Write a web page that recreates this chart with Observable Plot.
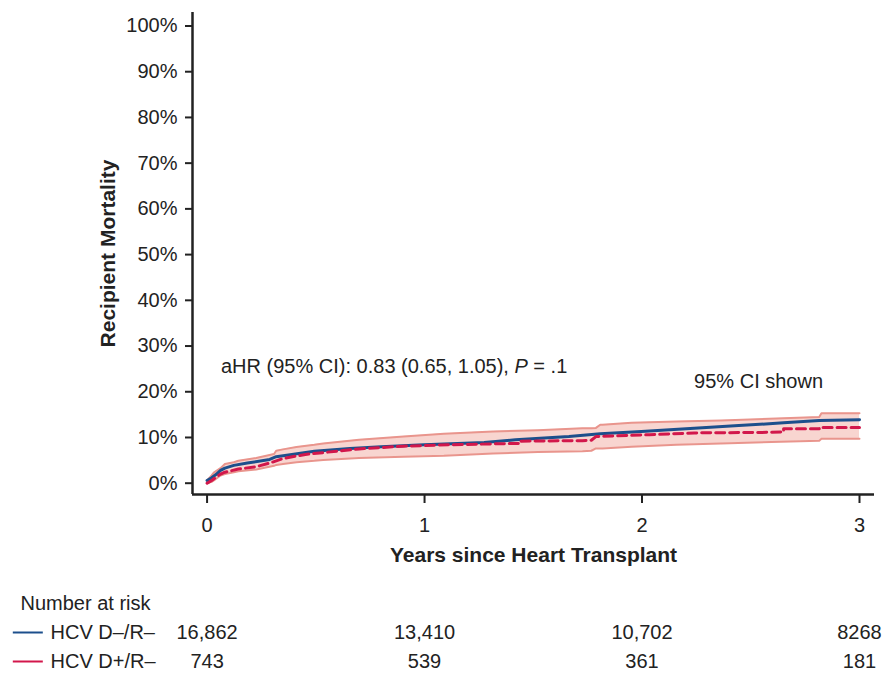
<!DOCTYPE html>
<html><head><meta charset="utf-8">
<script src="https://cdn.jsdelivr.net/npm/d3@7"></script>
<script src="https://cdn.jsdelivr.net/npm/@observablehq/plot@0.6"></script>
<style>
body{margin:0;background:#fff;}
#chart{width:884px;}
#chart svg{display:block;}
</style></head><body><div id="chart"></div>
<script>
const FONT = '"Liberation Sans", Arial, Helvetica, sans-serif';

// Series
const seriesNames = ["HCV D–/R–", "HCV D+/R–"];
const seriesColors = ["#1c4f8c", "#d2174b"];

// HCV D–/R– (solid blue), cumulative mortality %
const blueYears = [0, 0.021, 0.041, 0.062, 0.082, 0.123, 0.185, 0.288, 0.318, 0.390, 0.493, 0.657, 0.801, 0.999, 1.274, 1.418, 1.664, 1.808, 1.997, 2.240, 2.445, 2.651, 2.815, 3.0];
const blueMortality = [0.6, 1.2, 1.9, 2.8, 3.3, 3.9, 4.4, 5.2, 5.8, 6.3, 7.0, 7.6, 8.0, 8.4, 8.9, 9.5, 10.2, 10.8, 11.3, 12.0, 12.6, 13.2, 13.7, 13.9];

// HCV D+/R– (dashed red)
const redYears = [0, 0.021, 0.041, 0.062, 0.082, 0.144, 0.226, 0.288, 0.349, 0.452, 0.596, 0.699, 0.904, 1.109, 1.315, 1.438, 1.438, 1.726, 1.767, 1.788, 2.034, 2.240, 2.548, 2.651, 2.651, 2.815, 2.815, 3.0];
const redMortality = [0, 0.6, 1.3, 2.0, 2.4, 3.1, 3.6, 4.4, 5.4, 6.3, 7.0, 7.5, 8.1, 8.4, 8.6, 8.7, 9.2, 9.3, 9.4, 10.2, 10.6, 11.0, 11.1, 11.2, 11.9, 11.9, 12.2, 12.2];

// 95% CI band
const ciYears = [0, 0.021, 0.031, 0.062, 0.082, 0.123, 0.144, 0.226, 0.308, 0.318, 0.349, 0.411, 0.493, 0.534, 0.699, 0.904, 1.089, 1.315, 1.521, 1.726, 1.767, 1.788, 1.808, 1.818, 1.952, 2.158, 2.363, 2.815, 2.825, 3.0];
const ciLower = [0, 0.3, 0.6, 1.7, 2.0, 2.4, 2.6, 3.0, 3.8, 4.0, 4.2, 4.6, 4.9, 5.1, 5.5, 5.8, 6.0, 6.5, 6.8, 7.0, 7.1, 7.6, 7.6, 7.6, 8.0, 8.4, 8.7, 9.3, 9.7, 9.7];
const ciUpper = [0.6, 1.7, 2.3, 3.3, 4.2, 4.6, 4.9, 5.5, 6.4, 7.1, 7.4, 7.9, 8.4, 8.7, 9.5, 10.2, 10.8, 11.3, 11.6, 12.0, 12.0, 12.1, 12.8, 12.8, 13.2, 13.5, 13.7, 14.5, 15.3, 15.3];

// Axes
const yTicks = [0, 10, 20, 30, 40, 50, 60, 70, 80, 90, 100];
const xTicks = [0, 1, 2, 3];
const xLabel = "Years since Heart Transplant";
const yLabel = "Recipient Mortality";

// Annotations (data units)
const hrNote = "aHR (95% CI): 0.83 (0.65, 1.05), P = .1";
const hrNoteX = [0.064];
const hrNoteY = [25.5];
const ciNote = "95% CI shown";
const ciNoteX = [2.536];
const ciNoteY = [22.2];

// Number at risk
const riskHeader = "Number at risk";
const riskTimes = [0, 1, 2, 3];
const riskBlue = ["16,862", "13,410", "10,702", "8268"];
const riskRed = ["743", "539", "361", "181"];

// ---- build tables
const blue = blueYears.map((t, i) => ({t, m: blueMortality[i]}));
const red = redYears.map((t, i) => ({t, m: redMortality[i]}));
const ci = ciYears.map((t, i) => ({t, lo: ciLower[i], hi: ciUpper[i]}));
const hrNotes = hrNoteX.map((x, i) => ({text: hrNote, x, y: hrNoteY[i]}));
const ciNotes = ciNoteX.map((x, i) => ({text: ciNote, x, y: ciNoteY[i]}));
const riskRows = [riskBlue, riskRed];
const risk = riskRows.flatMap((arr, r) => arr.map((n, i) => ({t: riskTimes[i], row: seriesNames[r], n})));

const W = 884, H1 = 575, H2 = 98;
const xDomain = [-0.067, 3.069];
const yDomain = [-2.47, 102.95];
const style = {fontFamily: FONT, fontSize: "20px", color: "#222", background: "#fff", overflow: "visible"};

const main = Plot.plot({
  width: W, height: H1,
  marginLeft: 192, marginRight: 10, marginTop: 12, marginBottom: H1 - 494,
  style,
  x: {domain: xDomain},
  y: {domain: yDomain},
  marks: [
    Plot.areaY(ci, {x: "t", y1: "lo", y2: "hi", fill: "#f8d5d0"}),
    Plot.lineY(ci, {x: "t", y: "lo", stroke: "#e9958d", strokeWidth: 2}),
    Plot.lineY(ci, {x: "t", y: "hi", stroke: "#e9958d", strokeWidth: 2}),
    Plot.lineY(blue, {x: "t", y: "m", stroke: seriesColors[0], strokeWidth: 3}),
    Plot.lineY(red, {x: "t", y: "m", stroke: seriesColors[1], strokeWidth: 3, strokeDasharray: "9,5"}),
    Plot.ruleX([xDomain[0]], {stroke: "#222", strokeWidth: 2.5}),
    Plot.ruleY([yDomain[0]], {stroke: "#222", strokeWidth: 2.5}),
    Plot.axisY({ticks: yTicks, tickFormat: d => d + "%", tickSize: 7, tickPadding: 8, label: null, strokeWidth: 2, fill: "#222"}),
    Plot.axisX({ticks: xTicks, tickFormat: d => String(d), tickSize: 9, tickPadding: 14, label: null, strokeWidth: 2, fill: "#222"}),
    Plot.text([yLabel], {text: d => d, frameAnchor: "left", textAnchor: "middle", dx: -84, rotate: -90, fontWeight: "bold", fontSize: 21, fill: "#222"}),
    Plot.text([xLabel], {text: d => d, frameAnchor: "bottom", dy: 67, fontWeight: "bold", fontSize: 21, fill: "#222"}),
    Plot.text(hrNotes, {x: "x", y: "y", text: "text", textAnchor: "start", fontSize: 20, fill: "#222"}),
    Plot.text(ciNotes, {x: "x", y: "y", text: "text", textAnchor: "middle", fontSize: 20, fill: "#222"})
  ]
});

// italic P in the annotation
d3.select(main).selectAll("text").filter(function() { return this.textContent === hrNote; })
  .each(function() {
    const el = d3.select(this);
    el.text(null);
    el.append("tspan").text("aHR (95% CI): 0.83 (0.65, 1.05), ");
    el.append("tspan").attr("font-style", "italic").text("P");
    el.append("tspan").text(" = .1");
  });

const swatchX1 = -0.891, swatchX2 = -0.753;
const riskPlot = Plot.plot({
  width: W, height: H2,
  marginLeft: 192, marginRight: 10, marginTop: 0, marginBottom: 0,
  style,
  x: {domain: xDomain, axis: null},
  y: {type: "point", domain: [riskHeader, ...seriesNames], range: [28, 86], padding: 0, axis: null},
  marks: [
    Plot.text(risk, {x: "t", y: "row", text: "n", fontSize: 20, fill: "#222"}),
    Plot.text([riskHeader], {y: d => d, text: d => d, frameAnchor: "left", dx: -172, textAnchor: "start", fontSize: 20, fill: "#222"}),
    Plot.text(seriesNames, {y: d => d, text: d => d, frameAnchor: "left", dx: -142, textAnchor: "start", fontSize: 20, fill: "#222"}),
    ...seriesNames.map((s, i) => Plot.ruleY([s], {y: d => d, x1: swatchX1, x2: swatchX2, stroke: seriesColors[i], strokeWidth: 2}))
  ]
});

document.getElementById("chart").append(main, riskPlot);
</script>
</body></html>
